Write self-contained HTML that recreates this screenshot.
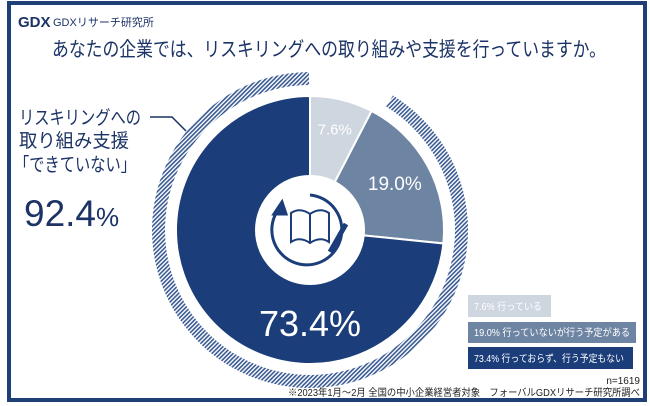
<!DOCTYPE html>
<html><head><meta charset="utf-8"><style>
body{margin:0;background:#fff;}
svg{display:block;font-family:"Liberation Sans","Noto Sans CJK JP",sans-serif;}
</style></head><body>
<svg width="650" height="406" viewBox="0 0 650 406">
<defs>
<pattern id="hatch" width="3" height="3" patternUnits="userSpaceOnUse" patternTransform="rotate(45)">
<rect width="3" height="3" fill="#fff"/><rect width="1.6" height="3" fill="#3a5a92"/>
</pattern>
</defs>
<rect x="9" y="3" width="636" height="397" fill="none" stroke="#1f3f77" stroke-width="4"/>
<text x="18" y="27" font-size="15" font-weight="bold" fill="#1b3366">GDX</text>
<text x="53" y="26" font-size="11" fill="#1b3366">GDXリサーチ研究所</text>
<text x="52" y="56" font-size="20" textLength="554" lengthAdjust="spacingAndGlyphs" fill="#1b3366">あなたの企業では、リスキリングへの取り組みや支援を行っていますか。</text>
<g id="ring"></g>
<g id="pie"></g>
<polyline points="150,117 172,117 186,131" fill="none" stroke="#1b3366" stroke-width="1.5"/>
<g fill="#1b3366" font-size="19" lengthAdjust="spacingAndGlyphs">
<text x="19" y="124" textLength="122" lengthAdjust="spacingAndGlyphs">リスキリングへの</text>
<text x="19" y="147" textLength="110" lengthAdjust="spacingAndGlyphs">取り組み支援</text>
<text x="14" y="171" textLength="122" lengthAdjust="spacingAndGlyphs">「できていない」</text>
</g>
<text x="24" y="226" font-size="37" fill="#1b3366">92.4<tspan font-size="26">%</tspan></text>
<circle cx="310" cy="230" r="55" fill="#fff"/>
<g fill="none" stroke="#1b3d7a" stroke-width="3">
<path d="M 310 195 A 35 35 0 1 1 278 210"/>
<path d="M 274 214 L 282 202 L 286 214 Z" fill="#1b3d7a"/>
<path d="M 291 213 Q 300 207 310 214 Q 320 207 329 213 L 329 242 Q 320 236 310 243 Q 300 236 291 242 Z" stroke-width="2"/>
<line x1="310" y1="214" x2="310" y2="243" stroke-width="2"/>
<line x1="346" y1="224" x2="330" y2="252" stroke-width="5"/>
</g>
<g id="labels"></g>
<g font-size="10">
<rect x="468" y="295" width="83" height="22" fill="#ced6e0"/>
<text x="474" y="310" fill="#fff" textLength="68" lengthAdjust="spacingAndGlyphs">7.6% 行っている</text>
<rect x="468" y="322" width="168" height="21" fill="#6e84a3"/>
<text x="474" y="336" fill="#fff" textLength="156" lengthAdjust="spacingAndGlyphs">19.0% 行っていないが行う予定がある</text>
<rect x="468" y="347" width="165" height="22" fill="#1b3d7a"/>
<text x="474" y="362" fill="#fff" textLength="150" lengthAdjust="spacingAndGlyphs">73.4% 行っておらず、行う予定もない</text>
</g>
<text x="640" y="384" text-anchor="end" font-size="10" fill="#222">n=1619</text>
<text x="288" y="396" font-size="10" fill="#222" textLength="352" lengthAdjust="spacingAndGlyphs">※2023年1月～2月 全国の中小企業経営者対象　フォーバルGDXリサーチ研究所調べ</text>
</svg>
<script>
const categories=["行っている","行っていないが行う予定がある","行っておらず、行う予定もない"];
const values=[7.6,19.0,73.4];
const labels=["7.6%","19.0%","73.4%"];
const colors=["#ced6e0","#6e84a3","#1b3d7a"];
const cx=310,cy=230,r=134;
const NS="http://www.w3.org/2000/svg";
function pt(frac,rad){const a=frac*2*Math.PI-Math.PI/2;return[cx+rad*Math.cos(a),cy+rad*Math.sin(a)];}
const total=values.reduce((a,b)=>a+b,0);
const pie=document.getElementById('pie'),lab=document.getElementById('labels');
let acc=0;
values.forEach((v,i)=>{
 const s=acc/total,e=(acc+v)/total;acc+=v;
 const p0=pt(s,r),p1=pt(e,r);
 const path=document.createElementNS(NS,'path');
 path.setAttribute('d',`M${cx},${cy} L${p0[0]},${p0[1]} A${r},${r} 0 ${e-s>0.5?1:0} 1 ${p1[0]},${p1[1]} Z`);
 path.setAttribute('fill',colors[i]);path.setAttribute('stroke','#fff');path.setAttribute('stroke-width','2');
 
 
 pie.appendChild(path);
 let lp;
 if(e-s>0.5){lp=[cx,cy+r*0.7];}else{const m=(s+e)/2;lp=pt(m,i==0?r*0.78:r*0.72);}
 const t=document.createElementNS(NS,'text');
 t.setAttribute('x',lp[0]);t.setAttribute('y',lp[1]+(e-s>0.5?12:6));
 t.setAttribute('text-anchor','middle');t.setAttribute('fill','#fff');
 t.setAttribute('font-size',i==0?15:(i==1?19:36));
 t.textContent=labels[i];
 
 
 lab.appendChild(t);
});
const ringStart=values[0]/total,ringEnd=1;
const ro=158,ri=145,gap=0.012;
const a0=pt(ringStart+gap,ro),a1=pt(ringEnd-0.001,ro),b1=pt(ringEnd-0.001,ri),b0=pt(ringStart+gap,ri);
const ring=document.createElementNS(NS,'path');
ring.setAttribute('d',`M${a0[0]},${a0[1]} A${ro},${ro} 0 1 1 ${a1[0]},${a1[1]} L${b1[0]},${b1[1]} A${ri},${ri} 0 1 0 ${b0[0]},${b0[1]} Z`);
ring.setAttribute('fill','url(#hatch)');


document.getElementById('ring').appendChild(ring);
</script>
</body></html>
